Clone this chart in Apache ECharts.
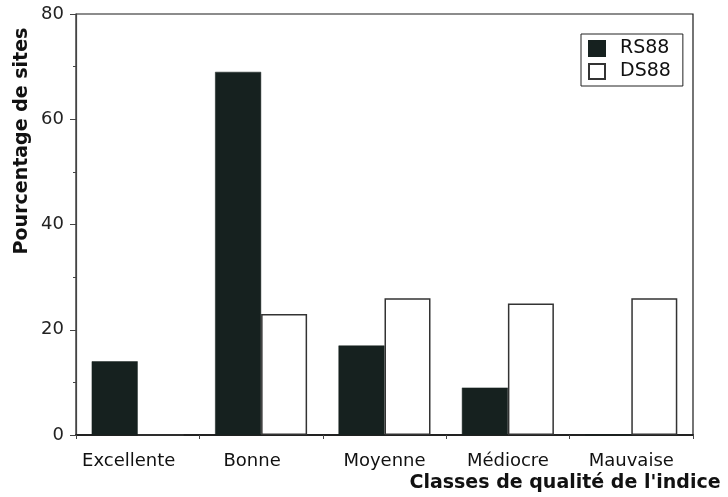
<!DOCTYPE html>
<html>
<head>
<meta charset="utf-8">
<script src="https://cdn.jsdelivr.net/npm/echarts@6/dist/echarts.min.js"></script>
<style>
    html, body { margin: 0; padding: 0; background: #fff; }
    #chart { width: 728px; height: 497px; }
</style>
</head>
<body>
<div id="chart"></div>
<script>
// classes de qualité
var categories = ['Excellente', 'Bonne', 'Moyenne', 'Médiocre', 'Mauvaise'];
var rs88 = [14, 69, 17, 9, 0];
var ds88 = [0, 23, 26, 25, 26];
var yTicks = [0, 20, 40, 60, 80];

var chart = echarts.init(document.getElementById('chart'));
var font = 'DejaVu Sans';

var option = {
    backgroundColor: '#fff',
    animation: false,
    grid: {
        left: 76,
        right: 35,
        top: 14,
        bottom: 62,
        show: true,
        borderColor: '#1a1a1a',
        borderWidth: 1.2
    },
    legend: {
        data: ['RS88', 'DS88'],
        orient: 'vertical',
        left: 581,
        top: 34,
        padding: [5, 12, 5, 7],
        itemWidth: 16,
        itemHeight: 15,
        itemGap: 4,
        borderColor: '#222',
        borderWidth: 1,
        icon: 'rect',
        textStyle: { fontFamily: font, fontSize: 19, color: '#111', padding: [0, 0, 0, 10] }
    },
    xAxis: {
        type: 'category',
        data: categories,
        boundaryGap: true,
        axisLine: { lineStyle: { color: '#222', width: 2 } },
        axisTick: { show: true, length: 4, lineStyle: { color: '#444' } },
        axisLabel: {
            fontFamily: font, fontSize: 18, color: '#111', margin: 17,
            interval: 0,
            hideOverlap: false,
            formatter: function (v, i) { return i < 2 ? '{s|' + v + '}' : v; },
            rich: { s: { fontFamily: font, fontSize: 18, color: '#111', padding: [0, 18, 0, 0] } }
        },
        splitLine: { show: false }
    },
    yAxis: {
        type: 'value',
        min: yTicks[0],
        max: yTicks[yTicks.length - 1],
        interval: 20,
        axisLine: { show: true, lineStyle: { color: '#444', width: 1.2 } },
        axisTick: { show: true, inside: false, length: 6, lineStyle: { color: '#444' } },
        minorTick: { show: true, splitNumber: 2, length: 3, lineStyle: { color: '#444' } },
        axisLabel: { fontFamily: font, fontSize: 18, color: '#222', margin: 12 },
        splitLine: { show: false }
    },
    graphic: [
        {
            type: 'text',
            x: 22, y: 141,
            rotation: Math.PI / 2,
            style: {
                text: 'Pourcentage de sites',
                font: 'bold 19px "DejaVu Sans"',
                fill: '#111',
                textAlign: 'center',
                textVerticalAlign: 'middle'
            }
        },
        {
            type: 'text',
            x: 565, y: 483,
            style: {
                text: "Classes de qualité de l'indice",
                font: 'bold 19px "DejaVu Sans"',
                fill: '#111',
                textAlign: 'center',
                textVerticalAlign: 'middle'
            }
        }
    ],
    series: [
        {
            name: 'RS88',
            type: 'bar',
            data: rs88,
            barWidth: 46,
            barGap: '0%',
            itemStyle: { color: '#16211f', borderColor: '#16211f', borderWidth: 0.5 }
        },
        {
            name: 'DS88',
            type: 'bar',
            data: ds88,
            barWidth: 46,
            barGap: '0%',
            itemStyle: { color: '#fff', borderColor: '#333', borderWidth: 1.5 }
        }
    ]
};
chart.setOption(option);
</script>
</body>
</html>
